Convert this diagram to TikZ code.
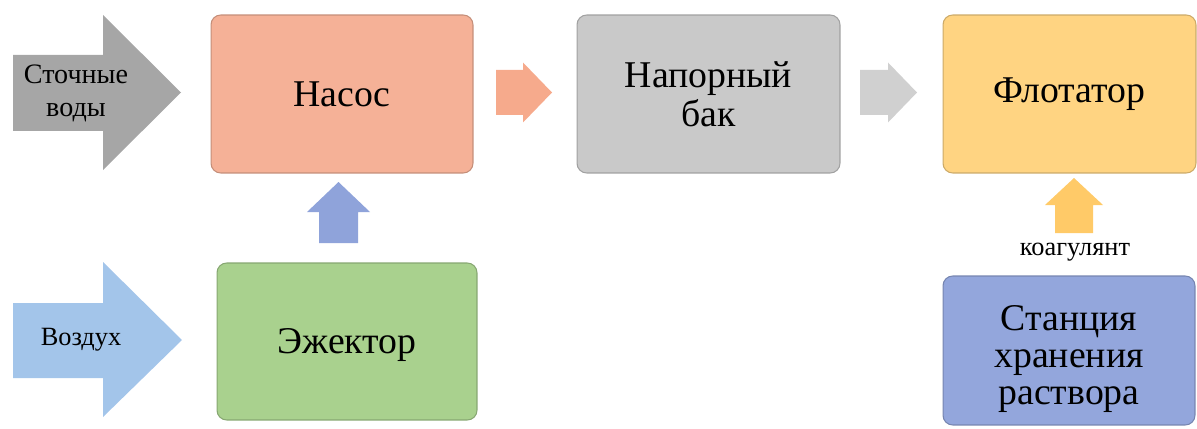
\documentclass[tikz,border=0pt]{standalone}
\usepackage{fontspec}
\setmainfont{Liberation Serif}
\definecolor{grayarrow}{HTML}{A6A6A6}
\definecolor{nasosfill}{HTML}{F5B197}
\definecolor{nasosarrow}{HTML}{F6AA8C}
\definecolor{bakfill}{HTML}{C9C9C9}
\definecolor{bakarrow}{HTML}{D0D0D0}
\definecolor{flotfill}{HTML}{FFD482}
\definecolor{koagarrow}{HTML}{FFCA68}
\definecolor{stanfill}{HTML}{93A6DC}
\definecolor{ejarrow}{HTML}{8FA3DA}
\definecolor{ejfill}{HTML}{A9D18E}
\definecolor{airarrow}{HTML}{A3C5EA}
\begin{document}
\begin{tikzpicture}[x=0.02cm,y=-0.02cm]
	\tikzstyle{every node}+=[inner sep=0pt]
	\tikzstyle{box}=[rectangle, rounded corners=5.5pt, line width=0.6pt, align=center, font=\fontsize{21.5}{22}\selectfont]
	\tikzstyle{small}=[align=center, font=\fontsize{15}{19}\selectfont]
	\useasboundingbox (0,0) rectangle (1197,429);
	% boxes
	\node [box, fill=nasosfill, draw=nasosfill!80!black, minimum width=5.24cm, minimum height=3.16cm] (nasos) at (342,94) {Насос};
	\node [box, fill=bakfill, draw=bakfill!80!black, minimum width=5.26cm, minimum height=3.16cm] (bak) at (708.5,94) {Напорный\\бак};
	\node [box, fill=flotfill, draw=flotfill!80!black, minimum width=5.06cm, minimum height=3.16cm] (flot) at (1069.5,94) {Флотатор};
	\node [box, fill=ejfill, draw=ejfill!80!black, minimum width=5.2cm, minimum height=3.14cm] (ejektor) at (347,341.5) {};
	\node [box] (ejektortext) at (347,345) {Эжектор};
	\node [box, fill=stanfill, draw=stanfill!80!black, minimum width=5.04cm, minimum height=2.98cm] (stanciya) at (1069,350.5) {};
	\node [box, font=\fontsize{21.5}{21}\selectfont] (stanciyatext) at (1069,359) {Станция\\хранения\\раствора};
	% input arrows
	\fill [grayarrow] (13,55) -- (103,55) -- (103,15) -- (181,92.5) -- (103,170) -- (103,131) -- (13,131) -- cycle;
	\node [small, font=\fontsize{16}{19}\selectfont] (stoki) at (76,93.5) {Сточные\\воды};
	\fill [airarrow] (13,303) -- (103,303) -- (103,262) -- (182,340) -- (103,417) -- (103,378) -- (13,378) -- cycle;
	\node [small] (vozduh) at (81,340) {Воздух};
	% arrows between boxes
	\fill [nasosarrow] (496,70) -- (523,70) -- (523,62.5) -- (552,92.5) -- (523,122.5) -- (523,115) -- (496,115) -- cycle;
	\fill [bakarrow] (860,70) -- (888,70) -- (888,62.5) -- (917,92.5) -- (888,122.5) -- (888,115) -- (860,115) -- cycle;
	\fill [ejarrow] (319,243) -- (319,212) -- (307,212) -- (338.5,182) -- (370,212) -- (358,212) -- (358,243) -- cycle;
	\fill [koagarrow] (1055,233) -- (1055,205) -- (1045,205) -- (1074,178) -- (1103,205) -- (1093,205) -- (1093,233) -- cycle;
	\node [small] (koag) at (1075,252) {коагулянт};
\end{tikzpicture}
\end{document}
